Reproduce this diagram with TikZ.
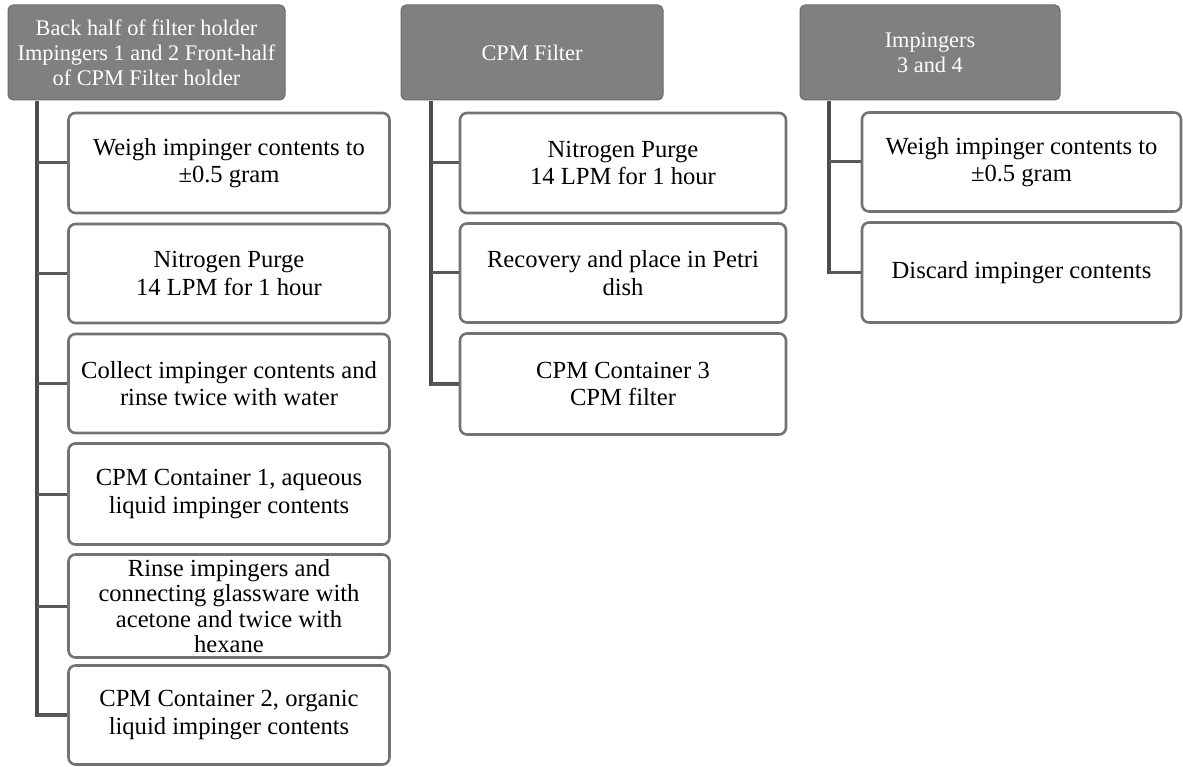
\documentclass[tikz,border=0pt]{standalone}
\usepackage{fontspec}
\setmainfont{Liberation Serif}
\begin{document}
\begin{tikzpicture}[x=1pt,y=-1pt,
  hdr/.style={draw=gray!85!black,line width=1pt,fill=black!50,rounded corners=5pt,text=white,align=center,font=\fontsize{22.3}{25}\selectfont,inner sep=0pt},
  sbox/.style={draw=black!55,line width=2.6pt,fill=white,rounded corners=7pt,align=center,font=\fontsize{24.6}{27.5}\selectfont,inner sep=0pt},
  trunk/.style={draw=black!70,line width=3.5pt},
  branch/.style={draw=black!65,line width=3pt}]
\useasboundingbox (0,0) rectangle (1183,767);
% headers
\node[hdr,minimum width=277pt,minimum height=95pt] (h1) at (146.5,52.5) {Back half of filter holder\\Impingers 1 and 2 Front-half\\of CPM Filter holder};
\node[hdr,minimum width=262pt,minimum height=95pt] (h2) at (532,52.5) {CPM Filter};
\node[hdr,minimum width=260pt,minimum height=95pt] (h3) at (930,52.5) {Impingers\\3 and 4};
% left column
\node[sbox,minimum width=321pt,minimum height=100pt] (a1) at (229,163) {Weigh impinger contents to\\±0.5 gram};
\node[sbox,minimum width=321pt,minimum height=99pt] (a2) at (229,273.5) {Nitrogen Purge\\14 LPM for 1 hour};
\node[sbox,minimum width=321pt,minimum height=99pt] (a3) at (229,383.5) {Collect impinger contents and\\rinse twice with water};
\node[sbox,minimum width=321pt,minimum height=101pt] (a4) at (229,494) {CPM Container 1, aqueous\\liquid impinger contents};
\node[sbox,minimum width=321pt,minimum height=103pt,font=\fontsize{24.6}{25.6}\selectfont] (a5) at (229,606) {Rinse impingers and\\connecting glassware with\\acetone and twice with\\hexane};
\node[sbox,minimum width=321pt,minimum height=99pt] (a6) at (229,715) {CPM Container 2, organic\\liquid impinger contents};
% middle column
\node[sbox,minimum width=326pt,minimum height=100pt] (b1) at (623,163) {Nitrogen Purge\\14 LPM for 1 hour};
\node[sbox,minimum width=326pt,minimum height=99pt] (b2) at (623,273) {Recovery and place in Petri\\dish};
\node[sbox,minimum width=326pt,minimum height=101pt] (b3) at (623,384) {CPM Container 3\\CPM filter};
% right column
\node[sbox,minimum width=319pt,minimum height=99pt] (c1) at (1021.5,162) {Weigh impinger contents to\\±0.5 gram};
\node[sbox,minimum width=319pt,minimum height=100pt] (c2) at (1021.5,272.5) {Discard impinger contents};
% connectors
\coordinate (t1) at (37,101);
\draw[trunk] (t1) |- (a6.west);
\foreach \n in {a1,a2,a3,a4,a5,a6} \draw[branch] (t1 |- \n.west) -- (\n.west);
\coordinate (t2) at (431,101);
\draw[trunk] (t2) |- (b3.west);
\foreach \n in {b1,b2,b3} \draw[branch] (t2 |- \n.west) -- (\n.west);
\coordinate (t3) at (829,101);
\draw[trunk] (t3) |- (c2.west);
\foreach \n in {c1,c2} \draw[branch] (t3 |- \n.west) -- (\n.west);
\end{tikzpicture}
\end{document}
